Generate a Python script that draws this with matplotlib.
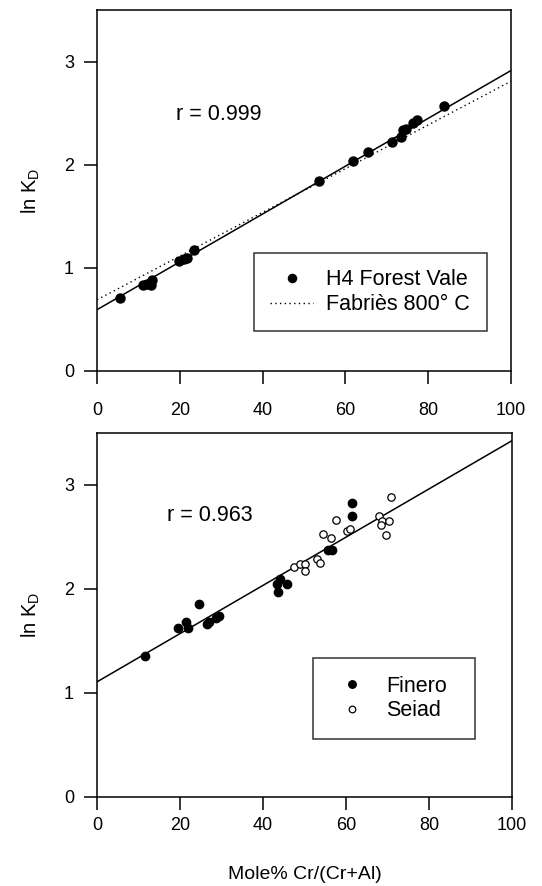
import numpy as np
import matplotlib
matplotlib.use('Agg')
import matplotlib.pyplot as plt

###############################################################################
### Settings
###############################################################################

plt.rcParams['font.family'] = 'Liberation Sans'
plt.rcParams['mathtext.fontset'] = 'custom'
plt.rcParams['mathtext.rm'] = 'Liberation Sans'
plt.rcParams['mathtext.it'] = 'Liberation Sans:italic'

dpi = 100

###############################################################################
### Data
###############################################################################

# H4 Forest Vale
fv_x = [5.6, 11.0, 12.0, 13.0, 13.2, 19.9, 20.9, 21.7, 23.4, 53.5,
        61.7, 65.5, 71.2, 73.3, 74.0, 74.6, 76.4, 77.2, 83.8]
fv_y = [0.71, 0.83, 0.84, 0.83, 0.88, 1.07, 1.09, 1.10, 1.17, 1.84,
        2.04, 2.12, 2.22, 2.27, 2.34, 2.35, 2.40, 2.43, 2.57]

# fitted line and Fabries 800 C line (intercept, slope)
fv_fit = (0.594, 0.0232)
fabries_fit = (0.69, 0.0212)
fv_r = 'r = 0.999'

# Finero
fin_x = [11.6, 19.6, 21.4, 22.0, 24.6, 27.0, 26.5, 28.7, 29.5, 43.3,
         45.7, 43.5, 44.1, 55.7, 56.6, 61.5, 61.5]
fin_y = [1.36, 1.62, 1.68, 1.62, 1.86, 1.68, 1.66, 1.72, 1.74, 2.05,
         2.05, 1.97, 2.10, 2.37, 2.37, 2.83, 2.70]

# Seiad
sei_x = [47.5, 48.9, 50.0, 50.1, 52.9, 53.7, 54.5, 56.4, 57.6, 60.2,
         61.0, 67.8, 68.6, 68.4, 70.4, 69.6, 70.8]
sei_y = [2.21, 2.24, 2.24, 2.17, 2.29, 2.25, 2.53, 2.49, 2.66, 2.56,
         2.58, 2.70, 2.65, 2.62, 2.65, 2.52, 2.88]

fs_fit = (1.107, 0.0232)
fs_r = 'r = 0.963'

x_ticks = [0, 20, 40, 60, 80, 100]
y_ticks = [0, 1, 2, 3]

###############################################################################
### Plot
###############################################################################

fig = plt.figure(figsize=(5.42, 8.86), dpi=dpi)
ax1 = fig.add_axes([0.179, 0.5813, 0.764, 0.4074])
ax2 = fig.add_axes([0.179, 0.1005, 0.766, 0.4108])

xl = np.array([0, 100])

def style_axes(ax, xpad):
    ax.set_xlim(0, 100)
    ax.set_ylim(0, 3.5)
    ax.set_xticks(x_ticks)
    ax.set_yticks(y_ticks)
    for s in ax.spines.values():
        s.set_linewidth(1.1)
    ax.tick_params(axis='both', direction='out', length=9.5, width=1.1,
                   labelsize=13)
    ax.tick_params(axis='x', pad=xpad)
    ax.tick_params(axis='y', pad=7)
    ax.set_ylabel(r'ln K$_\mathrm{D}$', fontsize=14.5)
    ax.yaxis.set_label_coords(-0.133, 0.5)

# top panel
ax1.plot(fv_x, fv_y, 'o', color='black', markersize=6.5, label='H4 Forest Vale',
         zorder=3)
ax1.plot(xl, fv_fit[0] + fv_fit[1] * xl, '-', color='black', lw=1.1)
ax1.plot(xl, fabries_fit[0] + fabries_fit[1] * xl, color='black', lw=1.0,
         dashes=(1, 2.4), label='Fabriès 800° C')
ax1.text(19.1, 2.49, fv_r, fontsize=15.5, va='center', ha='left')
style_axes(ax1, 13)
leg1 = ax1.legend(loc='upper left', bbox_to_anchor=(0.379, 0.109, 0.563, 0.217),
                  mode='expand', borderaxespad=0, fontsize=15.5, frameon=True,
                  fancybox=False, edgecolor='black', handlelength=2.0,
                  handletextpad=0.6, borderpad=0.75, labelspacing=0.18,
                  markerscale=0.9)
leg1.get_frame().set_linewidth(1.1)

# bottom panel
ax2.plot(fin_x, fin_y, 'o', color='black', markersize=6.0, label='Finero',
         zorder=3)
ax2.plot(sei_x, sei_y, 'o', markerfacecolor='white', markeredgecolor='black',
         markeredgewidth=0.9, markersize=5.3, label='Seiad', zorder=3)
ax2.plot(xl, fs_fit[0] + fs_fit[1] * xl, '-', color='black', lw=1.1, zorder=2)
ax2.text(16.8, 2.71, fs_r, fontsize=15.5, va='center', ha='left')
style_axes(ax2, 5)
ax2.set_xlabel('Mole% Cr/(Cr+Al)', fontsize=14, labelpad=23)
leg2 = ax2.legend(loc='upper left', bbox_to_anchor=(0.521, 0.164, 0.390, 0.217),
                  mode='expand', borderaxespad=0, fontsize=15.5, frameon=True,
                  fancybox=False, edgecolor='black', handlelength=2.0,
                  handletextpad=0.6, borderpad=0.8, labelspacing=0.18,
                  markerscale=0.9)
leg2.get_frame().set_linewidth(1.1)

fig.savefig('out.png', dpi=dpi)
